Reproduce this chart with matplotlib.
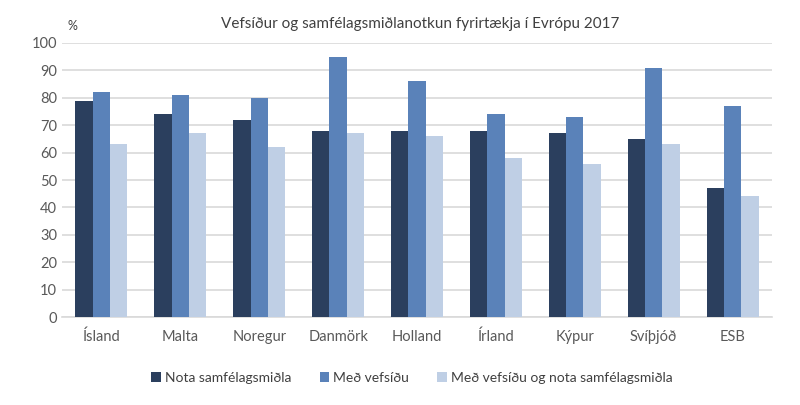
import numpy as np
import matplotlib.pyplot as plt

# Data
countries = ['Ísland', 'Malta', 'Noregur', 'Danmörk', 'Holland', 'Írland', 'Kýpur', 'Svíþjóð', 'ESB']
nota_samfelagsmidla = [79, 74, 72, 68, 68, 68, 67, 65, 47]
med_vefsidu = [82, 81, 80, 95, 86, 74, 73, 91, 77]
med_vefsidu_og_nota = [63, 67, 62, 67, 66, 58, 56, 63, 44]
series_labels = ['Nota samfélagsmiðla', 'Með vefsíðu', 'Með vefsíðu og nota samfélagsmiðla']
colors = ['#2B3F5E', '#5A82B9', '#BFCFE5']

plt.rcParams['font.family'] = ['Lato', 'DejaVu Sans']

fig = plt.figure(figsize=(8, 4.05), dpi=100)
ax = fig.add_axes([0.0775, 0.217, 0.8875, 0.677])

x = np.arange(len(countries))
width = 0.22
for i, (vals, lab, col) in enumerate(zip([nota_samfelagsmidla, med_vefsidu, med_vefsidu_og_nota],
                                         series_labels, colors)):
    ax.bar(x + (i - 1) * width, vals, width, color=col, label=lab, zorder=3)

ax.set_xlim(-0.5, len(countries) - 0.5)
ax.set_ylim(0, 100)
ax.set_yticks(range(0, 101, 10))
ax.yaxis.grid(True, color='#D9D9D9', linewidth=1.2, zorder=0)
ax.set_xticks(x)
ax.set_xticklabels(countries)
for s in ['top', 'right', 'left']:
    ax.spines[s].set_visible(False)
ax.spines['bottom'].set_color('#D9D9D9')
ax.spines['bottom'].set_linewidth(1.2)
ax.tick_params(axis='both', length=0, colors='#595959', labelsize=10.5)
ax.tick_params(axis='x', pad=9)

fig.text(0.525, 0.94, 'Vefsíður og samfélagsmiðlanotkun fyrirtækja í Evrópu 2017',
         ha='center', va='center', fontsize=11, color='#404040')
fig.text(0.085, 0.935, '%', ha='left', va='center', fontsize=9, color='#404040')

ax.legend(loc='center', bbox_to_anchor=(0.493, -0.222), ncol=3, frameon=False,
          fontsize=10, handlelength=0.7, handleheight=0.7, handletextpad=0.3,
          columnspacing=2.0, labelcolor='#404040')

fig.savefig('out.png', dpi=100)
